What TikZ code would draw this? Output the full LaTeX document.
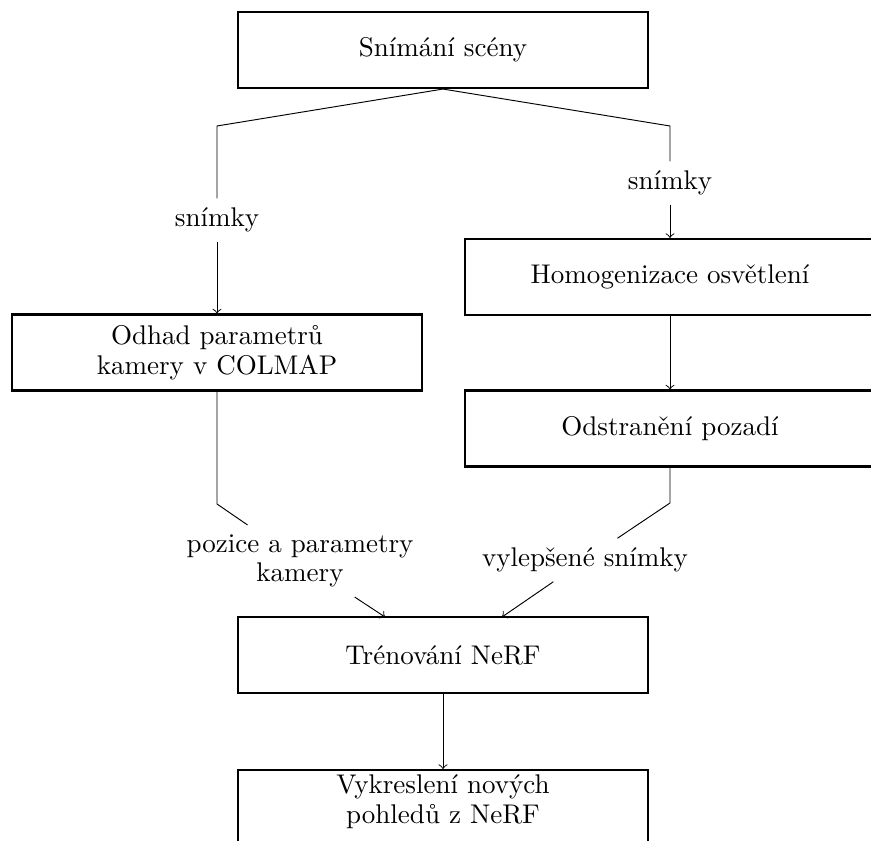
\documentclass[tikz,border=0pt]{standalone}
\usepackage{fontspec}
\begin{document}
\begin{tikzpicture}[x=0.37pt,y=-0.37pt,
  txt/.style={font=\fontsize{10}{11}\selectfont, align=center},
  box/.style={txt, draw, line width=0.8pt, minimum width=151.7pt, minimum height=28.1pt, inner sep=0pt},
  lbl/.style={txt, inner sep=3.33pt},
  conn/.style={line width=0.35pt},
  arr/.style={conn, ->}]
\clip (0,0) rectangle (871,841);
\node[box] (box1) at (443,50) {Snímání scény};
\node[box] (box2) at (217,352.5) {Odhad parametrů\\kamery v COLMAP};
\node[box] (box3) at (670,277) {Homogenizace osvětlení};
\node[box] (box4) at (670,428.5) {Odstranění pozadí};
\node[box] (box5) at (443,655) {Trénování NeRF};
\node[box, minimum height=40pt, anchor=north] (box6) at (443,769) {};
\node[lbl] (box6text) at (443,802) {Vykreslení nových\\pohledů z NeRF};
\node[lbl] (l1) at (217,220) {snímky};
\node[lbl] (l2) at (670,183) {snímky};
\node[lbl] (l3) at (300,561) {pozice a parametry\\kamery};
\node[lbl] (l4) at (585,560) {vylepšené snímky};
\coordinate (c1) at (217,126);
\coordinate (c2) at (670,126);
\coordinate (c3) at (217,504);
\coordinate (c4) at (670,503);
\coordinate (e3) at (385,617);
\coordinate (e4) at (502,617);
\draw[conn] (box1.south) -- (c1) -- (l1.north);
\draw[arr] (l1) -- (box2);
\draw[conn] (box1.south) -- (c2) -- (l2.north);
\draw[arr] (l2) -- (box3);
\draw[arr] (box3) -- (box4);
\draw[conn] (box2.south) -- (c3) -- (l3);
\draw[arr] (l3) -- (e3);
\draw[conn] (box4.south) -- (c4) -- (l4);
\draw[arr] (l4) -- (e4);
\draw[arr] (box5) -- (box6);
\end{tikzpicture}
\end{document}
